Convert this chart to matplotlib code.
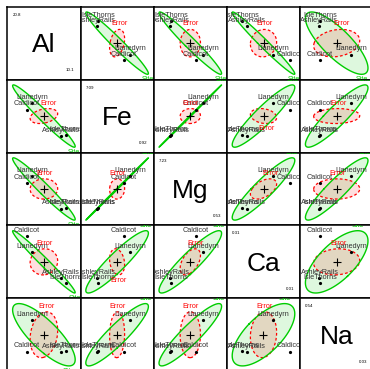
"""Pairwise HE plots of the pottery chemistry data (Site effect vs. Error)."""
import numpy as np
import matplotlib
matplotlib.use("Agg")
import matplotlib.pyplot as plt

plt.rcParams["font.family"] = ["Liberation Sans", "DejaVu Sans"]

# Data
variables = ["Al", "Fe", "Mg", "Ca", "Na"]
sites = ["Llanedyrn", "Caldicot", "IsleThorns", "AshleyRails"]
site_n = [14, 2, 5, 5]

al_means = [12.564, 11.700, 18.180, 17.320]
fe_means = [6.372, 5.415, 1.712, 1.512]
mg_means = [4.826, 3.855, 0.674, 0.606]
ca_means = [0.202, 0.295, 0.026, 0.052]
na_means = [0.251, 0.050, 0.054, 0.048]

var_max = ["20.8", "7.09", "7.23", "0.31", "0.54"]
var_min = ["10.1", "0.92", "0.53", "0.01", "0.03"]

# within-site (error) SSP matrix, order Al, Fe, Mg, Ca, Na
error_ssp = [
    [48.288, 7.080, 0.608, 0.106, 0.589],
    [7.080, 10.951, 0.527, -0.155, 0.067],
    [0.608, 0.527, 15.430, 0.435, 0.028],
    [0.106, -0.155, 0.435, 0.051, 0.010],
    [0.589, 0.067, 0.028, 0.010, 0.199],
]
df_error = 22

# ellipse sizing
radius = 1.55        # sqrt(2 * F(0.68; 2, 22))
h_divisor = 15.5     # "evidence" scaling of the hypothesis matrix
pad_frac = 0.085

E_COL = "red"
H_COL = "#00cd00"
LABEL_COL = "#333333"


def ellipse_points(center, shape, r, n=120):
    vals, vecs = np.linalg.eigh(shape)
    vals = np.clip(vals, 0, None)
    a = vecs @ np.diag(np.sqrt(vals))
    t = np.linspace(0, 2 * np.pi, n)
    circ = np.vstack([np.cos(t), np.sin(t)])
    return center + r * (a @ circ).T


def label_ellipse(ax, pts, text, color):
    r = np.corrcoef(pts[:, 0], pts[:, 1])[0, 1]
    if r >= 0:
        k = np.argmax(pts[:, 1])
        dy, va = 1.4, "bottom"
    else:
        k = np.argmin(pts[:, 1])
        dy, va = -1.4, "top"
    ax.annotate(text, (pts[k, 0], pts[k, 1]), xytext=(0, dy),
                textcoords="offset points", ha="center", va=va,
                fontsize=5.2, color=color, clip_on=True)


means = np.array([al_means, fe_means, mg_means, ca_means, na_means]).T
n = np.array(site_n)
grand = (means * n[:, None]).sum(0) / n.sum()
dev = means - grand
H = (dev.T * n) @ dev / h_divisor
E = np.array(error_ssp) / df_error

fig = plt.figure(figsize=(3.70, 3.69), dpi=100)
W, Hpx = 370.0, 369.0
x0, y0, pw, ph = 7.3, 6.7, 73.2, 72.9
nv = len(variables)

for i in range(nv):
    for j in range(nv):
        ax = fig.add_axes([(x0 + j * pw) / W, 1 - (y0 + (i + 1) * ph) / Hpx,
                           pw / W, ph / Hpx])
        ax.set_xticks([])
        ax.set_yticks([])
        for s in ax.spines.values():
            s.set_linewidth(1.1)

        if i == j:
            ax.set_xlim(0, 1)
            ax.set_ylim(0, 1)
            ax.text(0.5, 0.47, variables[i], ha="center", va="center", fontsize=19)
            ax.text(0.07, 0.89, var_max[i], ha="left", va="center", fontsize=3.2)
            ax.text(0.92, 0.13, var_min[i], ha="right", va="center", fontsize=3.2)
            continue

        idx = [j, i]
        c = grand[idx]
        e_pts = ellipse_points(c, E[np.ix_(idx, idx)], radius)
        h_pts = ellipse_points(c, H[np.ix_(idx, idx)], radius)

        ax.fill(h_pts[:, 0], h_pts[:, 1], color=H_COL, alpha=0.13, lw=0)
        ax.fill(e_pts[:, 0], e_pts[:, 1], color=E_COL, alpha=0.13, lw=0)
        ax.plot(e_pts[:, 0], e_pts[:, 1], color=E_COL, lw=0.9, dashes=(2.2, 1.8))
        ax.plot(h_pts[:, 0], h_pts[:, 1], color=H_COL, lw=1.0)
        ax.plot(c[0], c[1], marker="+", color="black", ms=5.5, mew=0.8)

        ax.plot(means[:, j], means[:, i], "o", color="black", ms=2.3, mew=0)
        for k, name in enumerate(sites):
            ax.annotate(name, (means[k, j], means[k, i]), xytext=(0, 1.6),
                        textcoords="offset points", ha="center", va="bottom",
                        fontsize=5.2, color=LABEL_COL, clip_on=True)

        label_ellipse(ax, e_pts, "Error", E_COL)
        label_ellipse(ax, h_pts, "Site", H_COL)

        allp = np.vstack([e_pts, h_pts])
        lo, hi = allp.min(0), allp.max(0)
        pad = pad_frac * (hi - lo)
        ax.set_xlim(lo[0] - pad[0], hi[0] + pad[0])
        ax.set_ylim(lo[1] - pad[1], hi[1] + pad[1])

fig.savefig("out.png", dpi=100)
